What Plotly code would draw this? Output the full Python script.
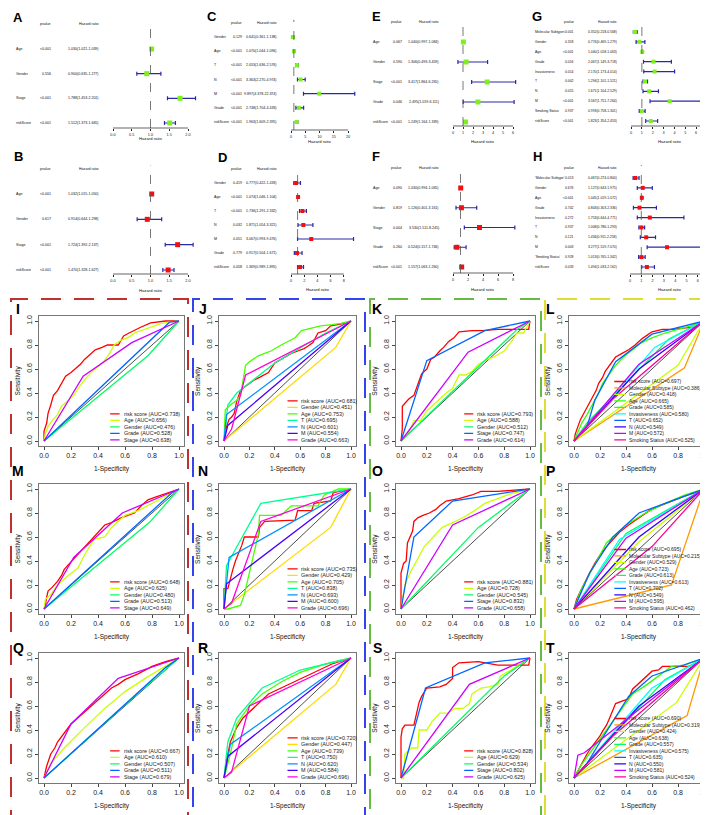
import plotly.graph_objects as go

W, H = 708, 815
FONT = "Liberation Sans, Arial, sans-serif"

# ---------------- forest-plot data ----------------
A_vars = ["Age", "Gender", "Stage", "riskScore"]
A_p = ["<0.001", "0.556", "<0.001", "<0.001"]
A_hr = [1.030, 0.900, 1.788, 1.512]
A_lo = [1.021, 0.635, 1.453, 1.373]
A_hi = [1.039, 1.277, 2.201, 1.665]

B_vars = ["Age", "Gender", "Stage", "riskScore"]
B_p = ["<0.001", "0.617", "<0.001", "<0.001"]
B_hr = [1.032, 0.914, 1.724, 1.470]
B_lo = [1.015, 0.644, 1.392, 1.328]
B_hi = [1.050, 1.298, 2.137, 1.627]

C_vars = ["Gender", "Age", "T", "N", "M", "Grade", "riskScore"]
C_p = ["0.129", "<0.001", "<0.001", "<0.001", "<0.001", "<0.001", "<0.001"]
C_hr = [0.641, 1.070, 2.053, 3.363, 9.897, 2.748, 1.963]
C_lo = [0.361, 1.044, 1.636, 2.270, 4.378, 1.704, 1.609]
C_hi = [1.138, 1.096, 2.576, 4.974, 22.374, 4.433, 2.395]

D_vars = ["Gender", "Age", "T", "N", "M", "Grade", "riskScore"]
D_p = ["0.419", "<0.001", "<0.001", "0.032", "0.051", "0.779", "0.058"]
D_hr = [0.777, 1.074, 1.736, 1.871, 3.067, 0.917, 1.369]
D_lo = [0.422, 1.046, 1.291, 1.054, 0.993, 0.504, 0.989]
D_hi = [1.433, 1.104, 2.332, 3.321, 9.476, 1.671, 1.895]

E_vars = ["Age", "Gender", "Stage", "Grade", "riskScore"]
E_p = ["0.067", "0.590", "<0.001", "0.046", "<0.001"]
E_hr = [1.040, 1.306, 3.417, 2.495, 1.249]
E_lo = [0.997, 0.493, 1.864, 1.019, 1.164]
E_hi = [1.084, 3.459, 6.265, 6.111, 1.339]

F_vars = ["Age", "Gender", "Stage", "Grade", "riskScore"]
F_p = ["0.090", "0.819", "0.004", "0.260", "<0.001"]
F_hr = [1.030, 1.126, 3.530, 0.524, 1.157]
F_lo = [0.994, 0.401, 1.511, 0.157, 1.063]
F_hi = [1.065, 3.161, 8.245, 1.746, 1.260]

G_vars = ["Molecular Subtype", "Gender", "Age", "Grade", "Invasiveness", "T", "N", "M",
          "Smoking Status", "riskScore"]
G_p = ["<0.001", "0.318", "<0.001", "0.016", "0.014", "0.002", "0.015", "<0.001", "0.937", "<0.001"]
G_hr = [0.352, 0.774, 1.040, 2.067, 2.170, 1.294, 1.671, 3.567, 0.993, 1.823]
G_lo = [0.218, 0.469, 1.018, 1.149, 1.173, 1.101, 1.104, 1.751, 0.758, 1.354]
G_hi = [0.568, 1.279, 1.063, 3.718, 4.014, 1.521, 2.529, 7.264, 1.301, 2.453]

H_vars = ["'Molecular Subtype'", "Gender", "Age", "Grade", "Invasiveness", "T", "N", "M",
          "'Smoking Status'", "riskScore"]
H_p = ["0.013", "0.676", "<0.001", "0.742", "0.272", "0.937", "0.121", "0.003", "0.928", "0.033"]
H_hr = [0.467, 1.127, 1.045, 0.843, 1.753, 1.008, 1.434, 3.277, 1.013, 1.494]
H_lo = [0.274, 0.643, 1.019, 0.303, 0.644, 0.786, 0.911, 1.519, 0.765, 1.033]
H_hi = [0.800, 1.975, 1.072, 2.336, 4.771, 1.293, 2.258, 7.070, 1.342, 2.162]

# ---------------- ROC data ----------------
I_names = ["risk score", "Age", "Gender", "Grade", "Stage"]
I_auc = [0.738, 0.656, 0.476, 0.528, 0.638]
I_fpr = [[0, 0.00, 0.02, 0.03, 0.05, 0.07, 0.10, 0.13, 0.16, 0.20, 0.23, 0.27, 0.30, 0.34, 0.38, 0.43, 0.47, 0.55, 0.57, 0.59, 0.63, 0.67, 0.72, 0.79, 0.85, 0.90, 1.0],
         [0, 0.01, 0.03, 0.06, 0.10, 0.13, 0.17, 0.22, 0.26, 0.30, 0.35, 0.40, 0.44, 0.48, 0.52, 0.57, 0.62, 0.67, 0.72, 0.77, 0.82, 0.87, 0.93, 1.0],
         [0, 0.77, 1], [0, 0.93, 1], [0, 0.29, 0.65, 1]]
I_tpr = [[0, 0.08, 0.15, 0.23, 0.30, 0.38, 0.42, 0.48, 0.54, 0.57, 0.60, 0.64, 0.68, 0.72, 0.76, 0.78, 0.80, 0.80, 0.84, 0.875, 0.90, 0.925, 0.95, 0.985, 0.99, 1.0, 1.0],
         [0, 0.06, 0.12, 0.17, 0.22, 0.29, 0.33, 0.38, 0.45, 0.51, 0.57, 0.62, 0.66, 0.72, 0.80, 0.84, 0.86, 0.90, 0.92, 0.94, 0.96, 0.98, 0.99, 1.0],
         [0, 0.71, 1], [0, 0.99, 1], [0, 0.54, 0.82, 1]]

J_names = ["risk score", "Gender", "Age", "T", "N", "M", "Grade"]
J_auc = [0.681, 0.451, 0.753, 0.695, 0.601, 0.554, 0.663]
J_fpr = [[0, 0.01, 0.02, 0.04, 0.06, 0.08, 0.10, 0.13, 0.16, 0.20, 0.24, 0.28, 0.32, 0.35, 0.40, 0.45, 0.50, 0.53, 0.58, 0.63, 0.66, 0.70, 0.74, 0.80, 0.84, 0.90, 0.95, 1.0],
         [0, 0.88, 1],
         [0, 0.01, 0.05, 0.10, 0.13, 0.17, 0.20, 0.27, 0.32, 0.37, 0.45, 0.50, 0.56, 0.61, 0.68, 0.76, 0.85, 0.92, 1.0],
         [0, 0.03, 0.10, 0.40, 0.80, 1], [0, 0.02, 1], [0, 0.03, 1], [0, 0.06, 0.17, 1]]
J_tpr = [[0, 0.05, 0.12, 0.18, 0.20, 0.23, 0.33, 0.42, 0.45, 0.48, 0.51, 0.53, 0.55, 0.57, 0.65, 0.68, 0.71, 0.73, 0.75, 0.77, 0.79, 0.82, 0.90, 0.92, 0.96, 0.97, 0.98, 1.0],
         [0, 0.78, 1],
         [0, 0.26, 0.30, 0.34, 0.38, 0.63, 0.66, 0.71, 0.73, 0.75, 0.80, 0.83, 0.86, 0.92, 0.94, 0.96, 0.97, 0.98, 1.0],
         [0, 0.30, 0.40, 0.65, 0.90, 1], [0, 0.22, 1], [0, 0.13, 1], [0, 0.10, 0.55, 1]]

K_names = ["risk score", "Age", "Gender", "Stage", "Grade"]
K_auc = [0.793, 0.588, 0.512, 0.747, 0.614]
K_fpr = [[0, 0.01, 0.01, 0.04, 0.06, 0.10, 0.12, 0.14, 0.16, 0.20, 0.23, 0.26, 0.30, 0.33, 0.37, 0.41, 0.45, 0.55, 0.63, 0.75, 0.85, 0.99, 1.0],
         [0, 0.05, 0.10, 0.15, 0.20, 0.27, 0.35, 0.40, 0.45, 0.50, 0.55, 0.60, 0.67, 0.72, 0.80, 0.85, 0.90, 0.95, 1.0],
         [0, 0.9, 1], [0, 0.2, 0.65, 1], [0, 0.52, 1]]
K_tpr = [[0, 0.10, 0.29, 0.33, 0.35, 0.38, 0.45, 0.50, 0.56, 0.60, 0.68, 0.70, 0.75, 0.78, 0.83, 0.86, 0.91, 0.92, 0.92, 0.93, 0.93, 0.93, 1.0],
         [0, 0.05, 0.17, 0.17, 0.25, 0.32, 0.40, 0.44, 0.55, 0.55, 0.58, 0.64, 0.68, 0.70, 0.75, 0.82, 0.90, 0.90, 1.0],
         [0, 0.93, 1], [0, 0.67, 0.92, 1], [0, 0.74, 1]]

L_names = ["risk score", "Molecular Subtype", "Gender", "Age", "Grade", "Invasiveness", "T", "N", "M",
           "Smoking Status"]
L_auc = [0.697, 0.386, 0.418, 0.665, 0.585, 0.580, 0.652, 0.549, 0.572, 0.525]
L_fpr = [[0, 0.01, 0.03, 0.05, 0.08, 0.11, 0.14, 0.17, 0.19, 0.22, 0.24, 0.28, 0.32, 0.37, 0.42, 0.47, 0.52, 0.56, 0.60, 0.68, 0.76, 0.84, 0.92, 1.0],
         [0, 0.85, 1], [0, 0.80, 1],
         [0, 0.03, 0.06, 0.10, 0.14, 0.18, 0.22, 0.27, 0.32, 0.38, 0.45, 0.52, 0.60, 0.70, 0.80, 0.90, 1.0],
         [0, 0.10, 0.73, 1], [0, 0.62, 1], [0, 0.10, 0.16, 0.32, 0.60, 1], [0, 0.5, 1], [0, 0.5, 1],
         [0, 0.3, 1]]
L_tpr = [[0, 0.06, 0.12, 0.18, 0.24, 0.30, 0.35, 0.42, 0.48, 0.53, 0.58, 0.64, 0.70, 0.73, 0.76, 0.80, 0.85, 0.88, 0.91, 0.93, 0.93, 0.94, 0.95, 1.0],
         [0, 0.61, 1], [0, 0.63, 1],
         [0, 0.08, 0.15, 0.22, 0.30, 0.38, 0.48, 0.56, 0.63, 0.70, 0.76, 0.82, 0.86, 0.90, 0.93, 0.96, 1.0],
         [0, 0.15, 0.85, 1], [0, 0.78, 1], [0, 0.12, 0.34, 0.66, 0.89, 1], [0, 0.6, 1], [0, 0.64, 1],
         [0, 0.35, 1]]

M_names = ["risk score", "Age", "Gender", "Grade", "Stage"]
M_auc = [0.648, 0.625, 0.480, 0.513, 0.649]
M_fpr = [[0, 0.01, 0.02, 0.03, 0.06, 0.10, 0.13, 0.15, 0.19, 0.23, 0.27, 0.30, 0.34, 0.38, 0.42, 0.45, 0.50, 0.57, 0.62, 0.67, 0.72, 0.77, 0.82, 0.87, 0.92, 0.97, 1.0],
         [0, 0.01, 0.05, 0.10, 0.18, 0.25, 0.30, 0.37, 0.45, 0.50, 0.60, 0.70, 0.80, 0.90, 1.0],
         [0, 0.78, 1], [0, 0.95, 1], [0, 0.22, 0.58, 1]]
M_tpr = [[0, 0.03, 0.10, 0.15, 0.18, 0.23, 0.28, 0.33, 0.38, 0.43, 0.48, 0.52, 0.57, 0.62, 0.67, 0.70, 0.72, 0.76, 0.78, 0.80, 0.86, 0.91, 0.93, 0.95, 0.97, 0.99, 1.0],
         [0, 0.08, 0.12, 0.20, 0.28, 0.34, 0.45, 0.58, 0.60, 0.68, 0.78, 0.82, 0.88, 0.94, 1.0],
         [0, 0.72, 1], [0, 0.97, 1], [0, 0.43, 0.80, 1]]

N_names = ["risk score", "Gender", "Age", "T", "N", "M", "Grade"]
N_auc = [0.735, 0.429, 0.705, 0.838, 0.693, 0.600, 0.696]
N_fpr = [[0, 0.0, 0.03, 0.05, 0.07, 0.09, 0.12, 0.14, 0.16, 0.27, 0.28, 0.32, 0.56, 0.58, 0.69, 0.71, 0.84, 0.86, 1.0],
         [0, 0.84, 1],
         [0, 0.03, 0.13, 0.16, 0.27, 0.28, 0.45, 0.53, 0.74, 0.79, 0.90, 1.0],
         [0, 0.02, 0.06, 0.29, 1], [0, 0.04, 1], [0, 0.02, 1], [0, 0.06, 0.29, 1]]
N_tpr = [[0, 0.17, 0.17, 0.26, 0.33, 0.40, 0.47, 0.53, 0.60, 0.60, 0.68, 0.73, 0.74, 0.82, 0.82, 0.88, 0.90, 0.97, 1.0],
         [0, 0.68, 1],
         [0, 0.0, 0.03, 0.12, 0.62, 0.78, 0.78, 0.86, 0.86, 0.95, 1.0, 1.0],
         [0, 0.36, 0.44, 0.88, 1], [0, 0.43, 1], [0, 0.21, 1], [0, 0.05, 0.73, 1]]

O_names = ["risk score", "Age", "Gender", "Stage", "Grade"]
O_auc = [0.881, 0.728, 0.545, 0.832, 0.658]
O_fpr = [[0, 0.0, 0.02, 0.04, 0.05, 0.07, 0.09, 0.10, 0.13, 0.17, 0.22, 0.27, 0.30, 0.35, 0.45, 0.55, 0.62, 0.75, 0.90, 1.0],
         [0, 0.03, 0.07, 0.12, 0.18, 0.25, 0.32, 0.40, 0.48, 0.57, 0.65, 0.75, 0.85, 1.0],
         [0, 0.6, 1], [0, 0.1, 0.4, 1], [0, 0.4, 1]]
O_tpr = [[0, 0.30, 0.38, 0.40, 0.55, 0.60, 0.65, 0.73, 0.76, 0.78, 0.80, 0.83, 0.86, 0.90, 0.92, 0.95, 0.98, 0.98, 0.99, 1.0],
         [0, 0.20, 0.30, 0.40, 0.52, 0.60, 0.68, 0.72, 0.76, 0.82, 0.88, 0.92, 0.96, 1.0],
         [0, 0.68, 1], [0, 0.6, 0.9, 1], [0, 0.7, 1]]

P_names = L_names
P_auc = [0.695, 0.215, 0.529, 0.723, 0.613, 0.613, 0.702, 0.549, 0.595, 0.462]
P_fpr = [[0, 0.02, 0.05, 0.08, 0.12, 0.16, 0.20, 0.25, 0.30, 0.35, 0.42, 0.50, 0.58, 0.66, 0.75, 0.85, 0.93, 1.0],
         [0, 0.75, 1], [0, 0.5, 1],
         [0, 0.05, 0.15, 0.25, 0.40, 0.55, 0.70, 0.85, 1],
         [0, 0.4, 1], [0, 0.35, 1], [0, 0.12, 0.3, 0.5, 1], [0, 0.5, 1], [0, 0.4, 1], [0, 0.6, 1]]
P_tpr = [[0, 0.08, 0.15, 0.22, 0.30, 0.38, 0.45, 0.52, 0.58, 0.64, 0.70, 0.76, 0.82, 0.86, 0.90, 0.94, 0.97, 1.0],
         [0, 0.2, 1], [0, 0.56, 1],
         [0, 0.15, 0.35, 0.55, 0.70, 0.80, 0.88, 0.95, 1],
         [0, 0.63, 1], [0, 0.58, 1], [0, 0.3, 0.6, 0.8, 1], [0, 0.6, 1], [0, 0.59, 1], [0, 0.52, 1]]

Q_names = ["risk score", "Age", "Gender", "Grade", "Stage"]
Q_auc = [0.667, 0.610, 0.507, 0.511, 0.679]
Q_fpr = [[0, 0.01, 0.02, 0.05, 0.08, 0.10, 0.15, 0.20, 0.25, 0.30, 0.35, 0.40, 0.45, 0.50, 0.55, 0.60, 0.70, 0.80, 0.90, 1.0],
         [0, 0.05, 0.15, 0.30, 0.45, 0.60, 0.75, 0.90, 1.0],
         [0, 0.7, 1], [0, 0.9, 1], [0, 0.2, 0.55, 1]]
Q_tpr = [[0, 0.05, 0.10, 0.20, 0.25, 0.30, 0.38, 0.45, 0.50, 0.55, 0.60, 0.65, 0.70, 0.75, 0.78, 0.82, 0.87, 0.93, 0.97, 1.0],
         [0, 0.12, 0.25, 0.42, 0.58, 0.72, 0.83, 0.93, 1.0],
         [0, 0.71, 1], [0, 0.92, 1], [0, 0.45, 0.83, 1]]

R_names = ["risk score", "Gender", "Age", "T", "N", "M", "Grade"]
R_auc = [0.720, 0.447, 0.739, 0.750, 0.620, 0.584, 0.696]
R_fpr = [[0, 0.02, 0.05, 0.10, 0.15, 0.20, 0.25, 0.35, 0.45, 0.55, 0.70, 0.85, 1.0],
         [0, 0.88, 1],
         [0, 0.05, 0.10, 0.20, 0.30, 0.45, 0.60, 0.80, 1],
         [0, 0.03, 0.10, 0.30, 0.60, 1], [0, 0.05, 1], [0, 0.03, 1], [0, 0.06, 0.2, 1]]
R_tpr = [[0, 0.15, 0.30, 0.42, 0.50, 0.55, 0.60, 0.70, 0.75, 0.80, 0.87, 0.95, 1.0],
         [0, 0.78, 1],
         [0, 0.2, 0.45, 0.6, 0.7, 0.8, 0.88, 0.95, 1],
         [0, 0.30, 0.50, 0.75, 0.90, 1], [0, 0.28, 1], [0, 0.18, 1], [0, 0.05, 0.6, 1]]

S_names = ["risk score", "Age", "Gender", "Stage", "Grade"]
S_auc = [0.828, 0.629, 0.534, 0.802, 0.625]
S_fpr = [[0, 0.0, 0.01, 0.03, 0.10, 0.12, 0.14, 0.16, 0.20, 0.30, 0.35, 0.40, 0.40, 0.45, 0.60, 0.75, 0.99, 1.0],
         [0, 0.02, 0.03, 0.08, 0.13, 0.14, 0.20, 0.24, 0.30, 0.36, 0.42, 0.48, 0.53, 0.55, 0.62, 0.68, 0.75, 0.77, 0.85, 0.92, 1.0],
         [0, 0.8, 1], [0, 0.19, 0.65, 1], [0, 0.53, 1]]
S_tpr = [[0, 0.34, 0.41, 0.44, 0.44, 0.54, 0.63, 0.68, 0.75, 0.76, 0.78, 0.83, 0.92, 0.96, 0.97, 0.94, 0.94, 1.0],
         [0, 0.0, 0.20, 0.25, 0.25, 0.40, 0.40, 0.47, 0.54, 0.54, 0.58, 0.58, 0.62, 0.70, 0.75, 0.76, 0.78, 0.85, 0.90, 0.95, 1.0],
         [0, 0.85, 1], [0, 0.75, 0.96, 1], [0, 0.78, 1]]

T_names = L_names
T_auc = [0.690, 0.319, 0.424, 0.638, 0.557, 0.575, 0.635, 0.550, 0.581, 0.524]
T_fpr = [[0, 0.02, 0.06, 0.10, 0.13, 0.16, 0.20, 0.22, 0.25, 0.27, 0.30, 0.32, 0.37, 0.42, 0.45, 0.50, 0.55, 0.60, 0.65, 0.68, 0.75, 0.88, 0.95, 1.0],
         [0, 0.87, 1], [0, 0.79, 1],
         [0, 0.05, 0.15, 0.25, 0.35, 0.40, 0.45, 0.55, 0.65, 0.75, 0.85, 1.0],
         [0, 0.7, 1], [0, 0.6, 1], [0, 0.1, 0.2, 0.42, 0.6, 1], [0, 0.5, 1], [0, 0.03, 0.08, 1],
         [0, 0.3, 1]]
T_tpr = [[0, 0.04, 0.13, 0.20, 0.25, 0.29, 0.35, 0.39, 0.44, 0.49, 0.56, 0.62, 0.64, 0.66, 0.74, 0.79, 0.84, 0.89, 0.90, 0.93, 0.93, 0.93, 0.96, 1.0],
         [0, 0.52, 1], [0, 0.63, 1],
         [0, 0.10, 0.25, 0.40, 0.55, 0.62, 0.70, 0.77, 0.85, 0.93, 0.94, 1.0],
         [0, 0.82, 1], [0, 0.75, 1], [0, 0.12, 0.3, 0.68, 0.85, 1], [0, 0.6, 1], [0, 0.19, 0.21, 1],
         [0, 0.35, 1]]

diag_x = [0, 1]
diag_y = [0, 1]

RAIN5 = ["#FF0000", "#CCFF00", "#00FF66", "#0066FF", "#CC00FF"]
RAIN7 = ["#FF0000", "#FFDB00", "#49FF00", "#00FF92", "#0092FF", "#4900FF", "#FF00DB"]
RAIN10 = ["#FF0000", "#FF9900", "#CCFF00", "#33FF00", "#00FF66", "#00FFFF", "#0066FF", "#3300FF",
          "#CC00FF", "#FF0099"]

# ---------------- helpers ----------------
fig = go.Figure()
lay = {}
ann = []
shp = []
ax_n = [0]


def add_axes(xdom, ydom, xrange, yrange, xextra, yextra):
    ax_n[0] += 1
    n = ax_n[0]
    s = "" if n == 1 else str(n)
    lay["xaxis" + s] = dict(domain=[xdom[0] / W, xdom[1] / W], range=xrange, anchor="y" + s,
                            fixedrange=True, **xextra)
    lay["yaxis" + s] = dict(domain=[1 - ydom[1] / H, 1 - ydom[0] / H], range=yrange, anchor="x" + s,
                            fixedrange=True, **yextra)
    return "x" + s, "y" + s


def ptxt(text, px, py, size, anchor="center", bold=False, angle=0, color="#111"):
    ann.append(dict(text=("<b>%s</b>" % text) if bold else text, xref="paper", yref="paper",
                    x=px / W, y=1 - py / H, xanchor=anchor, yanchor="middle", showarrow=False,
                    textangle=angle, font=dict(size=size, color=color, family=FONT)))


def forest(letter, names, pv, hr, lo, hi, color, g):
    n = len(names)
    first, last = g["rows"]
    sp = (last - first) / (n - 1)

    def val(py):
        return 1 + (last - py) / sp

    top = first - sp - 3
    px0, sc, ticks = g["px0"], g["sc"], g["ticks"]
    xmax = max(max(hi), ticks[-1])
    xl = px0 - 4
    xr = min(px0 + sc * xmax + 4, W - 4)
    ttxt = ["%.1f" % t for t in ticks] if any(t != int(t) for t in ticks) else [str(int(t)) for t in ticks]
    xa, ya = add_axes((xl, xr), (top, g["axis"]), [(xl - px0) / sc, (xr - px0) / sc],
                      [val(g["axis"]), val(top)],
                      dict(tickvals=ticks, ticktext=ttxt, ticks="outside", ticklen=2, tickwidth=0.7,
                           tickcolor="#222", showline=False, showgrid=False, zeroline=False,
                           tickfont=dict(size=3.8, color="#222", family=FONT)),
                      dict(visible=False))
    ys = list(range(n, 0, -1))
    shp.append(dict(type="line", xref=xa, yref=ya + " domain", x0=1, x1=1, y0=0, y1=1,
                    line=dict(color="#555", width=0.8, dash="dash")))
    shp.append(dict(type="line", xref=xa, yref=ya + " domain", x0=ticks[0], x1=ticks[-1], y0=0, y1=0,
                    line=dict(color="#222", width=0.7)))
    fig.add_trace(go.Scatter(
        x=hr, y=ys, xaxis=xa, yaxis=ya, mode="markers", hoverinfo="skip", cliponaxis=False,
        marker=dict(symbol="square", size=g["ms"], color=color),
        error_x=dict(type="data", symmetric=False, array=[h - r for h, r in zip(hi, hr)],
                     arrayminus=[r - l for r, l in zip(hr, lo)], color="#2a2aa8", thickness=1.2,
                     width=2)))
    fs = g.get("fs", 3.6)
    for i in range(n):
        ann.append(dict(text=names[i], xref="paper", yref=ya, x=g["nx"] / W, y=ys[i], xanchor="left",
                        yanchor="middle", showarrow=False, borderpad=0,
                        font=dict(size=fs, color="#111", family=FONT)))
        ann.append(dict(text=pv[i], xref="paper", yref=ya, x=g["pr"] / W, y=ys[i], xanchor="right",
                        yanchor="middle", showarrow=False, borderpad=0,
                        font=dict(size=fs, color="#111", family=FONT)))
        ann.append(dict(text="%.3f(%.3f-%.3f)" % (hr[i], lo[i], hi[i]), xref="paper", yref=ya,
                        x=g["hrr"] / W, y=ys[i], xanchor="right", yanchor="middle", showarrow=False,
                        borderpad=0, font=dict(size=fs, color="#111", family=FONT)))
    for t, xr_ in (("pvalue", g["pr"]), ("Hazard ratio", g["hrr"])):
        ann.append(dict(text=t, xref="paper", yref=ya, x=xr_ / W, y=n + 1, xanchor="right",
                        yanchor="middle", showarrow=False, borderpad=0,
                        font=dict(size=fs, color="#111", family=FONT)))
    ptxt("Hazard ratio", px0 + sc * ticks[-1] / 2, g["title"], 4.2)
    ptxt(letter, g["lab"][0], g["lab"][1], 13, bold=True, color="black")


GREEN = "#7ef01e"
RED = "#f01010"
forest("A", A_vars, A_p, A_hr, A_lo, A_hi, GREEN,
       dict(px0=105, sc=37.5, ticks=[0, 0.5, 1, 1.5, 2], rows=(41, 115), axis=120, title=131,
            nx=7, pr=44, hrr=92, lab=(10, 9), ms=5))
forest("B", B_vars, B_p, B_hr, B_lo, B_hi, RED,
       dict(px0=105, sc=37.5, ticks=[0, 0.5, 1, 1.5, 2], rows=(186, 262), axis=266, title=282,
            nx=7, pr=44, hrr=92, lab=(10, 148), ms=5))
forest("C", C_vars, C_p, C_hr, C_lo, C_hi, GREEN,
       dict(px0=283, sc=2.85, ticks=[0, 5, 10, 15, 20], rows=(29, 114), axis=122, title=134,
            nx=205, pr=235, hrr=270, lab=(204, 8), ms=4))
forest("D", D_vars, D_p, D_hr, D_lo, D_hi, RED,
       dict(px0=283, sc=6.6, ticks=[0, 2, 4, 6, 8], rows=(175, 259), axis=266, title=281,
            nx=205, pr=235, hrr=270, lab=(214, 149), ms=4))
forest("E", E_vars, E_p, E_hr, E_lo, E_hi, GREEN,
       dict(px0=445, sc=10, ticks=[0, 1, 2, 3, 4, 5, 6], rows=(34, 114), axis=118, title=134,
            nx=364, pr=395, hrr=432, lab=(368, 8), ms=5))
forest("F", F_vars, F_p, F_hr, F_lo, F_hi, RED,
       dict(px0=445, sc=7.5, ticks=[0, 2, 4, 6, 8], rows=(180, 259), axis=265, title=281,
            nx=364, pr=395, hrr=432, lab=(368, 148), ms=5))
forest("G", G_vars, G_p, G_hr, G_lo, G_hi, GREEN,
       dict(px0=623, sc=10.86, ticks=[0, 1, 2, 3, 4, 5, 6, 7], rows=(24, 113), axis=118, title=134,
            nx=526, pr=567, hrr=610, lab=(529, 8), ms=4, fs=3.4))
forest("H", H_vars, H_p, H_hr, H_lo, H_hi, RED,
       dict(px0=622, sc=11.3, ticks=[0, 1, 2, 3, 4, 5, 6, 7], rows=(170, 259), axis=266, title=281,
            nx=526, pr=567, hrr=610, lab=(529, 148), ms=4, fs=3.4))

# ---------------- ROC panels ----------------
COLS = [(36, 171), (216, 343), (393, 522), (566, 696)]
ROWS = [(313, 433), (481, 601), (650, 770)]
LAB_X = [10, 195, 369, 542]
LAB_Y = [301, 463, 640]
LEG = {5: (0.49, 0.56, 0.585, 5.4), 7: (0.50, 0.58, 0.60, 5.4), 10: (0.31, 0.40, 0.415, 5.0)}
TV = [0, 0.2, 0.4, 0.6, 0.8, 1.0]
TT = ["0.0", "0.2", "0.4", "0.6", "0.8", "1.0"]


def roc(letter, col, row, names, aucs, fprs, tprs, colors):
    x0p, x1p = COLS[col]
    y1p, y0p = ROWS[row]
    dx, dy = x1p - x0p, y0p - y1p
    bl, br = x0p - 0.04 * dx, x1p + 0.04 * dx
    bt, bb = y1p - 0.04 * dy, y0p + 0.04 * dy
    common = dict(tickvals=TV, ticktext=TT, ticks="outside", ticklen=3, tickwidth=0.8, tickcolor="#444",
                  showline=True, mirror=True, linecolor="#777", linewidth=1, showgrid=False,
                  zeroline=False, tickfont=dict(size=7, color="#222", family=FONT))
    xa, ya = add_axes((bl, br), (bt, bb), [-0.04, 1.04], [-0.04, 1.04], dict(common),
                      dict(common, tickangle=-90))
    fig.add_trace(go.Scatter(x=diag_x, y=diag_y, xaxis=xa, yaxis=ya, mode="lines", hoverinfo="skip",
                             line=dict(color="#222", width=0.8)))
    for nm, fp, tp, c in zip(names, fprs, tprs, colors):
        fig.add_trace(go.Scatter(x=fp, y=tp, xaxis=xa, yaxis=ya, mode="lines", hoverinfo="skip",
                                 line=dict(color=c, width=1.3)))
    lx0, lx1, tx, fsz = LEG[len(names)]
    k = len(names)
    for i, (nm, a, c) in enumerate(zip(names, aucs, colors)):
        yv = 0.01 + 0.054 * (k - 1 - i)
        shp.append(dict(type="line", xref=xa, yref=ya, x0=lx0, x1=lx1, y0=yv, y1=yv,
                        line=dict(color=c, width=1.3)))
        ann.append(dict(text="%s (AUC=%.3f)" % (nm, a), xref=xa, yref=ya, x=tx, y=yv, xanchor="left",
                        yanchor="middle", showarrow=False, borderpad=0,
                        font=dict(size=fsz, color="#222", family=FONT)))
    ptxt("Sensitivity", bl - 21, (bt + bb) / 2, 6.5, angle=-90)
    ptxt("1-Specificity", (bl + br) / 2, bb + 23, 6.5)
    ptxt(letter, LAB_X[col], LAB_Y[row], 14, bold=True, color="black")


roc("I", 0, 0, I_names, I_auc, I_fpr, I_tpr, RAIN5)
roc("J", 1, 0, J_names, J_auc, J_fpr, J_tpr, RAIN7)
roc("K", 2, 0, K_names, K_auc, K_fpr, K_tpr, RAIN5)
roc("L", 3, 0, L_names, L_auc, L_fpr, L_tpr, RAIN10)
roc("M", 0, 1, M_names, M_auc, M_fpr, M_tpr, RAIN5)
roc("N", 1, 1, N_names, N_auc, N_fpr, N_tpr, RAIN7)
roc("O", 2, 1, O_names, O_auc, O_fpr, O_tpr, RAIN5)
roc("P", 3, 1, P_names, P_auc, P_fpr, P_tpr, RAIN10)
roc("Q", 0, 2, Q_names, Q_auc, Q_fpr, Q_tpr, RAIN5)
roc("R", 1, 2, R_names, R_auc, R_fpr, R_tpr, RAIN7)
roc("S", 2, 2, S_names, S_auc, S_fpr, S_tpr, RAIN5)
roc("T", 3, 2, T_names, T_auc, T_fpr, T_tpr, RAIN10)

# dashed column frames
for (x0, x1, c) in [(3, 180, "#c0302e"), (185, 357, "#3344ee"), (362, 533, "#66bb44"), (537, 705, "#dddd33")]:
    shp.append(dict(type="rect", xref="paper", yref="paper", x0=x0 / W, x1=x1 / W, y0=1 - 812 / H,
                    y1=1 - 291 / H, line=dict(color=c, width=2, dash="20px,13px"),
                    fillcolor="rgba(0,0,0,0)"))

fig.update_layout(width=W, height=H, margin=dict(l=0, r=0, t=0, b=0), paper_bgcolor="white",
                  plot_bgcolor="white", showlegend=False, font=dict(family=FONT),
                  annotations=ann, shapes=shp, **lay)
fig.write_html("out.html", config={"displayModeBar": False})
